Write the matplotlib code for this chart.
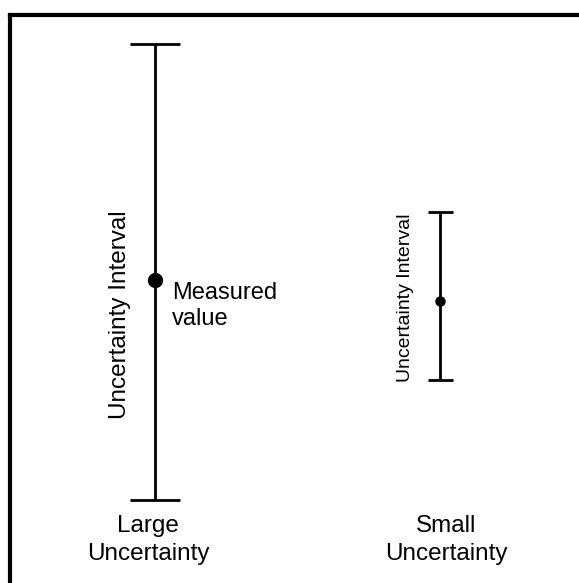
import matplotlib
matplotlib.use("Agg")
import matplotlib.pyplot as plt

plt.rcParams['font.family'] = ['Liberation Sans', 'DejaVu Sans']

# positions of the two measurements (horizontal, in figure pixels)
x_pos = [155, 440]
# measured values and the interval limits (vertical, arbitrary units)
values = [30.3, 28.2]
upper = [53.9, 37.1]
lower = [8.3, 20.3]
cap_px = [25, 12.5]
labels = ["Large\nUncertainty", "Small\nUncertainty"]
interval_text = "Uncertainty Interval"

W, H = 579, 583
fig = plt.figure(figsize=(W / 100, H / 100), dpi=100)

# frame: only left and top lines show, the rest runs off the picture
frame = fig.add_axes([9.5 / W, -0.1, 1.2, 0.1 + (H - 14.5) / H])
frame.set_xticks([])
frame.set_yticks([])
for side in ["right", "bottom"]:
    frame.spines[side].set_visible(False)
for side in ["left", "top"]:
    frame.spines[side].set_linewidth(3)
frame.patch.set_alpha(0)

ax = fig.add_axes([0, 0, 1, 1])
ax.set_xlim(0, W)
ax.set_ylim(0, H / 10)
ax.axis("off")
ax.patch.set_alpha(0)

for i in range(2):
    err = [[values[i] - lower[i]], [upper[i] - values[i]]]
    ax.errorbar([x_pos[i]], [values[i]], yerr=err, fmt="o", color="black",
                ms=10 if i == 0 else 6.5, elinewidth=2, capsize=cap_px[i] * 0.72,
                capthick=2)

ax.text(120, 26.8, interval_text, rotation=90, ha="center", va="center", fontsize=17.5)
ax.text(405.5, 28.55, interval_text, rotation=90, ha="center", va="center", fontsize=14)
ax.text(172, 27.7, "Measured\nvalue", ha="left", va="center", fontsize=17,
        linespacing=1.2)

ax.text(148, 4.3, labels[0], ha="center", va="center", fontsize=17.5, linespacing=1.3)
ax.text(446, 4.3, labels[1], ha="center", va="center", fontsize=17.5, linespacing=1.3)

fig.savefig("out.png", dpi=100)
